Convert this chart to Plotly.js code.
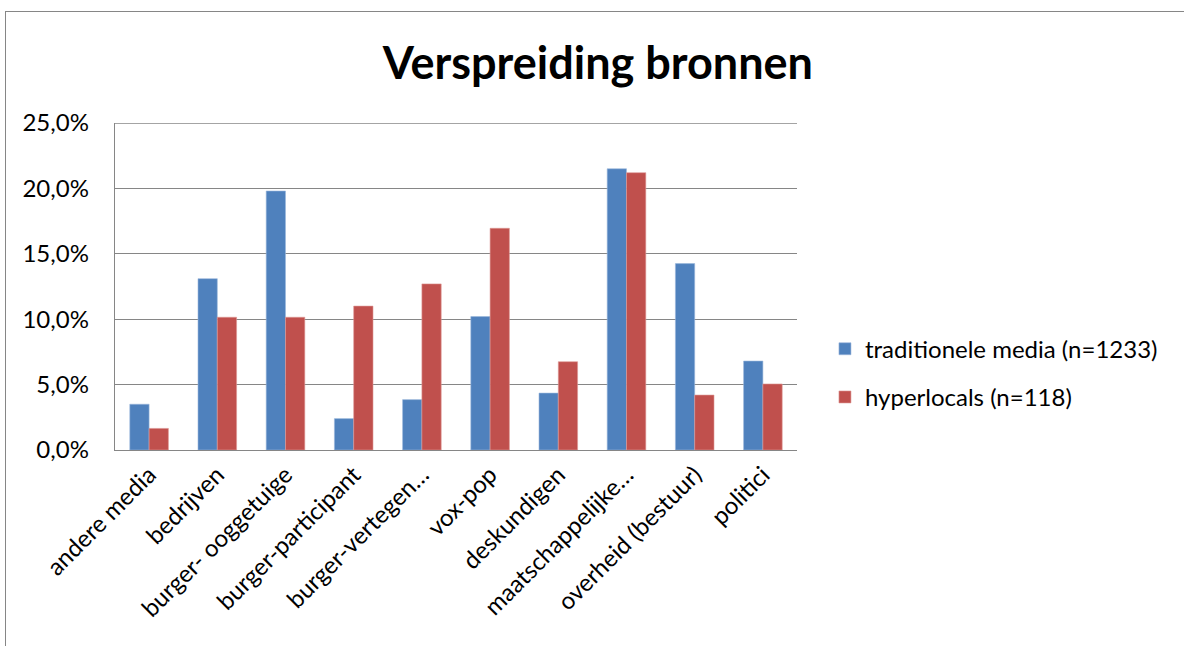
<!DOCTYPE html>
<html>
<head>
<meta charset="utf-8">
<script src="https://cdn.plot.ly/plotly-3.0.1.min.js"></script>
<style>
  html, body { margin: 0; padding: 0; background: #fff; }
  #wrap { position: relative; width: 1184px; height: 646px; overflow: hidden; }
  #chart { position: absolute; left: 0; top: 0; width: 1184px; height: 646px; }
  #frame { position: absolute; left: 5px; top: 11px; width: 1300px; height: 800px;
           border-left: 1px solid #868686; border-top: 1px solid #868686; pointer-events: none; }
</style>
</head>
<body>
<div id="wrap">
  <div id="chart"></div>
  <div id="frame"></div>
</div>
<script>
const categories = ["andere media", "bedrijven", "burger- ooggetuige", "burger-participant",
  "burger-vertegen…", "vox-pop", "deskundigen", "maatschappelijke…", "overheid (bestuur)", "politici"];
const traditioneel = [3.5, 13.1, 19.8, 2.4, 3.85, 10.2, 4.35, 21.5, 14.25, 6.8];
const hyperlocals = [1.65, 10.15, 10.15, 11.0, 12.7, 16.95, 6.75, 21.2, 4.2, 5.05];
const seriesNames = ["traditionele media (n=1233)", "hyperlocals (n=118)"];
const yTicks = [0, 5, 10, 15, 20, 25];
const yTickText = ["0,0%", "5,0%", "10,0%", "15,0%", "20,0%", "25,0%"];
const yMax = 25;

const font = "Lato, 'Open Sans', sans-serif";

const data = [
  { type: "bar", x: categories, y: traditioneel, name: seriesNames[0], legendgroup: "a",
    marker: { color: "#4F81BD", line: { color: "#9ab7db", width: 0.6 } }, hoverinfo: "x+y" },
  { type: "bar", x: categories, y: hyperlocals, name: seriesNames[1], legendgroup: "b",
    marker: { color: "#C0504D", line: { color: "#dd9896", width: 0.6 } }, hoverinfo: "x+y" }
];

const layout = {
  width: 1184, height: 646,
  paper_bgcolor: "rgba(0,0,0,0)", plot_bgcolor: "#fff",
  separators: ",.",
  margin: { l: 115, r: 387, t: 123, b: 196 },
  font: { family: font, size: 24, color: "#000" },
  title: { text: "<b>Verspreiding bronnen</b>", font: { family: font, size: 45, color: "#000" },
           x: 0.505, xanchor: "center", y: 0.902, yanchor: "middle", xref: "container" },
  barmode: "group", bargap: 0.434, bargroupgap: 0,
  showlegend: true,
  legend: { x: 1.041, xanchor: "left", y: 0.235, yanchor: "middle", traceorder: "grouped",
            tracegroupgap: 14, font: { family: font, size: 24 }, bgcolor: "rgba(0,0,0,0)" },
  xaxis: { type: "category", tickangle: -45, showgrid: false, showline: true, linecolor: "#868686",
           linewidth: 1.3, ticks: "", tickfont: { family: font, size: 24 }, fixedrange: true },
  yaxis: { range: [0, yMax], tickvals: yTicks, ticktext: yTickText,
           showgrid: true, gridcolor: "#868686", gridwidth: 1.3, showline: true, linecolor: "#868686",
           linewidth: 1.3, zeroline: false, ticks: "", ticklabelstandoff: 20,
           tickfont: { family: font, size: 24 }, fixedrange: true },
  shapes: [
    { type: "line", xref: "paper", yref: "y", x0: 0, x1: 1, y0: yMax, y1: yMax,
      line: { color: "#868686", width: 1.3 }, layer: "below" }
  ]
};

Plotly.newPlot("chart", data, layout, { displayModeBar: false, staticPlot: true });
</script>
</body>
</html>
